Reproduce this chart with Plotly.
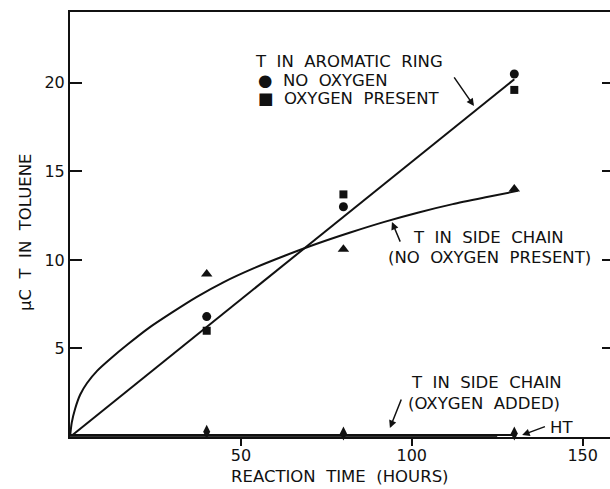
import plotly.graph_objects as go

# ---- data ----
time_pts = [40, 80, 130]
ring_no_oxygen = [6.8, 13.0, 20.5]
ring_oxygen_present = [6.0, 13.7, 19.6]
side_no_oxygen = [9.2, 10.6, 14.0]

ring_fit_x = [0, 130]
ring_fit_y = [0, 20.2]

side_curve_x = [0, 0.5, 1.5, 3, 5, 8, 12, 17, 23, 30, 37, 45, 54, 63, 72, 82, 92, 102, 112, 122, 131]
side_curve_y = [0, 0.8, 1.6, 2.4, 3.05, 3.75, 4.45, 5.25, 6.15, 7.05, 7.9, 8.75, 9.55, 10.25, 10.9,
                11.55, 12.15, 12.68, 13.15, 13.55, 13.9]

ht_x = [40, 80, 130]
ht_y = [0.3, 0.2, 0.2]
ht_line_x = [0, 130]
ht_line_y = [0.12, 0.12]

side_o2_x = [86.5, 124.8]
side_o2_y = [-0.15, -0.15]
side_o2_line_x = [0, 125]
side_o2_line_y = [0.03, 0.03]

x_ticks = [50, 100, 150]
y_ticks = [5, 10, 15, 20]

FONT = "DejaVu Sans"
BLACK = "#111111"

fig = go.Figure()

# fitted lines
fig.add_trace(go.Scatter(x=ring_fit_x, y=ring_fit_y, mode="lines",
                         line=dict(color=BLACK, width=2), showlegend=False))
fig.add_trace(go.Scatter(x=side_curve_x, y=side_curve_y, mode="lines",
                         line=dict(color=BLACK, width=2, shape="spline", smoothing=0.6),
                         showlegend=False))
fig.add_trace(go.Scatter(x=side_o2_line_x, y=side_o2_line_y, mode="lines",
                         line=dict(color="#333333", width=2.5), showlegend=False))
fig.add_trace(go.Scatter(x=ht_line_x, y=ht_line_y, mode="lines",
                         line=dict(color=BLACK, width=2), showlegend=False))

# points
fig.add_trace(go.Scatter(x=time_pts, y=ring_no_oxygen, mode="markers",
                         marker=dict(symbol="circle", size=9, color=BLACK),
                         showlegend=False))
fig.add_trace(go.Scatter(x=time_pts, y=ring_oxygen_present, mode="markers",
                         marker=dict(symbol="square", size=8, color=BLACK),
                         showlegend=False))
fig.add_trace(go.Scatter(x=time_pts, y=side_no_oxygen, mode="markers",
                         marker=dict(symbol="triangle-up", size=10, color=BLACK),
                         showlegend=False))
fig.add_trace(go.Scatter(x=ht_x, y=ht_y, mode="markers", cliponaxis=False,
                         marker=dict(symbol="diamond-tall", size=10, color=BLACK),
                         showlegend=False))
fig.add_trace(go.Scatter(x=side_o2_x, y=side_o2_y, mode="markers", cliponaxis=False,
                         marker=dict(symbol="triangle-down", size=8, color=BLACK),
                         showlegend=False))

# right-side inside ticks (mirror of y ticks, no line)
fig.add_trace(go.Scatter(x=[None], y=[None], yaxis="y2", showlegend=False))

txt = dict(family=FONT, size=16.5, color=BLACK)

def label(x, y, text):
    fig.add_annotation(x=x, y=y, xref="x", yref="y", text=text, showarrow=False,
                       xanchor="left", yanchor="middle", font=txt)

def arrow(hx, hy, tx, ty):
    fig.add_annotation(x=hx, y=hy, ax=tx, ay=ty, xref="x", yref="y",
                       axref="x", ayref="y", text="", showarrow=True,
                       arrowhead=2, arrowsize=1.0, arrowwidth=1.5, arrowcolor=BLACK)

label(53.5, 21.18, "T\u00a0 IN\u00a0 AROMATIC\u00a0 RING")
label(54.4, 20.16, "●\u00a0 NO\u00a0 OXYGEN")
label(54.4, 19.14, "■\u00a0 OXYGEN\u00a0 PRESENT")
arrow(118.2, 18.69, 112.1, 20.39)

label(99.7, 11.29, "T\u00a0 IN\u00a0 SIDE\u00a0 CHAIN")
label(92.4, 10.11, "(NO\u00a0 OXYGEN\u00a0 PRESENT)")
arrow(94.2, 12.14, 96.8, 10.95)

label(99.2, 3.05, "T\u00a0 IN\u00a0 SIDE\u00a0 CHAIN")
label(98.3, 1.92, "(OXYGEN\u00a0 ADDED)")
arrow(93.6, 0.51, 97.1, 2.2)

label(139.8, 0.51, "HT")
arrow(132.3, 0.11, 139.4, 0.62)

# axis titles
fig.add_annotation(x=0.5, y=-0.094, xref="paper", yref="paper",
                   text="REACTION\u00a0 TIME\u00a0 (HOURS)", showarrow=False,
                   xanchor="center", yanchor="middle", font=txt)
fig.add_annotation(x=-0.0833, y=0.48, xref="paper", yref="paper",
                   text="μC\u00a0 T\u00a0 IN\u00a0 TOLUENE", showarrow=False, textangle=-90,
                   xanchor="center", yanchor="middle", font=txt)

fig.update_layout(
    width=610, height=489,
    margin=dict(l=70, r=0, t=12, b=52),
    paper_bgcolor="white", plot_bgcolor="white",
    showlegend=False,
    xaxis=dict(range=[0, 158], tickvals=x_ticks, ticks="outside", ticklen=7,
               tickwidth=1.5, tickcolor=BLACK, showline=True, linewidth=2,
               linecolor=BLACK, mirror=True, showgrid=False, zeroline=False,
               ticklabelstandoff=-4,
               tickfont=dict(family=FONT, size=16, color=BLACK)),
    yaxis=dict(range=[0, 24], tickvals=y_ticks, ticks="inside", ticklen=12,
               tickwidth=1.5, tickcolor=BLACK, showline=True, linewidth=2,
               linecolor=BLACK, showgrid=False, zeroline=False,
               tickfont=dict(family=FONT, size=16, color=BLACK)),
    yaxis2=dict(range=[0, 24], tickvals=y_ticks, ticks="inside", ticklen=8,
                tickwidth=1.5, tickcolor=BLACK, overlaying="y", side="right",
                showline=False, showgrid=False, zeroline=False,
                showticklabels=False),
)

fig.write_html("out.html")
